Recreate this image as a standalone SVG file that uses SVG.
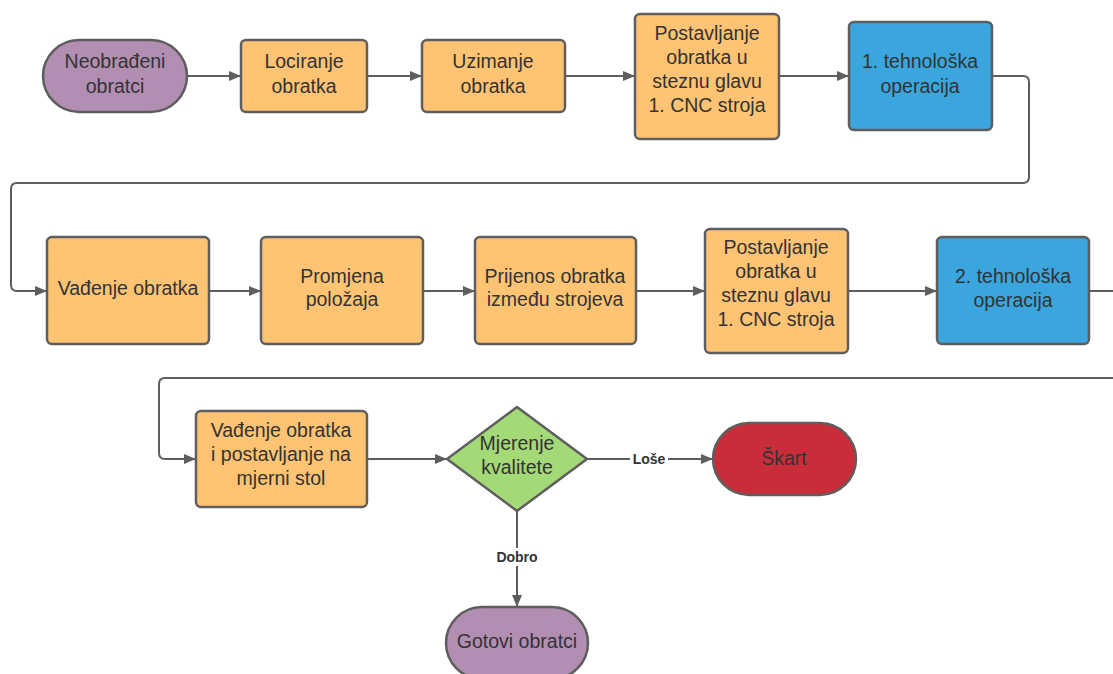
<svg xmlns="http://www.w3.org/2000/svg" width="1113" height="674" viewBox="0 0 1113 674">
<defs>
<marker id="arr" markerWidth="12" markerHeight="10" refX="12" refY="5" orient="auto" markerUnits="userSpaceOnUse">
<path d="M0,0 L12,5 L0,10 Z" fill="#5E5E5E"/>
</marker>
<style>
.n{stroke:#5E5E5E;stroke-width:2.5}
.o{fill:#FFC374}
.p{fill:#B28EB3}
.b{fill:#3AA6DD}
.g{fill:#A3D977}
.r{fill:#C92D39}
.t{font-family:"Liberation Sans",Arial,sans-serif;font-size:19.5px;fill:#333333;text-anchor:middle}
.c{fill:none;stroke:#5E5E5E;stroke-width:2}
.l{font-family:"Liberation Sans",Arial,sans-serif;font-size:14px;font-weight:bold;fill:#333333;text-anchor:middle}
</style>
</defs>
<rect width="1113" height="674" fill="#FFFFFF"/>
<g id="connectors">
<path class="c" d="M187,76 H241" marker-end="url(#arr)"/>
<path class="c" d="M367,76 H422" marker-end="url(#arr)"/>
<path class="c" d="M565,76 H635" marker-end="url(#arr)"/>
<path class="c" d="M779,76 H849" marker-end="url(#arr)"/>
<path class="c" d="M992,76 H1023 Q1029,76 1029,82 V177 Q1029,183 1023,183 H17 Q11,183 11,189 V285 Q11,291 17,291 H47" marker-end="url(#arr)"/>
<path class="c" d="M209,291 H261" marker-end="url(#arr)"/>
<path class="c" d="M423,291 H475" marker-end="url(#arr)"/>
<path class="c" d="M636,291 H705" marker-end="url(#arr)"/>
<path class="c" d="M848,291 H937" marker-end="url(#arr)"/>
<path class="c" d="M1089,291 H1113"/>
<path class="c" d="M1113,378 H165 Q159,378 159,384 V453 Q159,459 165,459 H196" marker-end="url(#arr)"/>
<path class="c" d="M367,459 H447" marker-end="url(#arr)"/>
<path class="c" d="M587,459 H713" marker-end="url(#arr)"/>
<path class="c" d="M517,511 V607" marker-end="url(#arr)"/>
<rect x="630" y="450" width="38" height="18" fill="#FFFFFF"/>
<text class="l" x="649" y="464">Loše</text>
<rect x="493" y="548" width="48" height="18" fill="#FFFFFF"/>
<text class="l" x="517" y="562">Dobro</text>
</g>
<g id="n1"><rect class="n p" x="43" y="40" width="144" height="72" rx="36"/><text class="t" x="115" y="68">Neobrađeni</text><text class="t" x="115" y="93">obratci</text></g>
<g id="n2"><rect class="n o" x="241" y="40" width="126" height="72" rx="5"/><text class="t" x="304" y="68">Lociranje</text><text class="t" x="304" y="93">obratka</text></g>
<g id="n3"><rect class="n o" x="422" y="40" width="143" height="72" rx="5"/><text class="t" x="493" y="68">Uzimanje</text><text class="t" x="493" y="93">obratka</text></g>
<g id="n4"><rect class="n o" x="635" y="14" width="144" height="125" rx="5"/><text class="t" x="707" y="40">Postavljanje</text><text class="t" x="707" y="64">obratka u</text><text class="t" x="707" y="88">steznu glavu</text><text class="t" x="707" y="112">1. CNC stroja</text></g>
<g id="n5"><rect class="n b" x="849" y="22" width="143" height="108" rx="5"/><text class="t" x="920" y="68">1. tehnološka</text><text class="t" x="920" y="93">operacija</text></g>
<g id="n6"><rect class="n o" x="47" y="237" width="162" height="107" rx="5"/><text class="t" x="128" y="295">Vađenje obratka</text></g>
<g id="n7"><rect class="n o" x="261" y="237" width="162" height="107" rx="5"/><text class="t" x="342" y="283">Promjena</text><text class="t" x="342" y="306">položaja</text></g>
<g id="n8"><rect class="n o" x="475" y="237" width="161" height="107" rx="5"/><text class="t" x="555" y="283">Prijenos obratka</text><text class="t" x="555" y="306">između strojeva</text></g>
<g id="n9"><rect class="n o" x="705" y="229" width="143" height="124" rx="5"/><text class="t" x="776" y="254">Postavljanje</text><text class="t" x="776" y="278">obratka u</text><text class="t" x="776" y="302">steznu glavu</text><text class="t" x="776" y="326">1. CNC stroja</text></g>
<g id="n10"><rect class="n b" x="937" y="237" width="152" height="107" rx="5"/><text class="t" x="1013" y="283">2. tehnološka</text><text class="t" x="1013" y="307">operacija</text></g>
<g id="n11"><rect class="n o" x="196" y="411" width="171" height="96" rx="5"/><text class="t" x="281" y="437">Vađenje obratka</text><text class="t" x="281" y="461">i postavljanje na</text><text class="t" x="281" y="485">mjerni stol</text></g>
<g id="n12"><path class="n g" d="M517,407 L587,459 L517,511 L447,459 Z" stroke-linejoin="round"/><text class="t" x="517" y="450">Mjerenje</text><text class="t" x="517" y="474">kvalitete</text></g>
<g id="n13"><rect class="n r" x="713" y="423" width="143" height="72" rx="36"/><text class="t" x="784" y="465">Škart</text></g>
<g id="n14"><rect class="n p" x="446" y="607" width="142" height="72" rx="36"/><text class="t" x="517" y="648">Gotovi obratci</text></g>
</svg>
